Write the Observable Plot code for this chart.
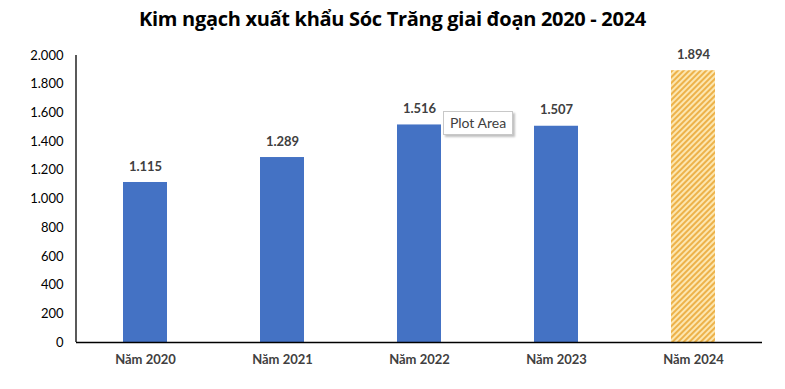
<!DOCTYPE html>
<html><head><meta charset="utf-8">
<script src="https://cdn.jsdelivr.net/npm/d3@7"></script>
<script src="https://cdn.jsdelivr.net/npm/@observablehq/plot@0.6"></script>
<style>
body{margin:0;background:#fff;font-family:Lato,"Open Sans",sans-serif;}
#wrap{position:relative;width:785px;height:389px;}
#title{height:40px;line-height:38px;text-align:center;font-weight:bold;font-size:20px;color:#000;font-family:"Open Sans",Lato,sans-serif;letter-spacing:-0.3px;}
#tip{position:absolute;left:443px;top:111px;width:68px;height:22px;border:1px solid #c8c8c8;background:#fff;box-shadow:2px 2px 2px rgba(0,0,0,0.25);font-size:14px;color:#404040;line-height:22px;text-align:center;font-family:Lato,sans-serif;}
</style></head>
<body>
<div id="wrap">
<div id="title">Kim ngạch xuất khẩu Sóc Trăng giai đoạn 2020 - 2024</div>
<div id="chart"></div>
<div id="tip">Plot Area</div>
</div>
<script>
const years = ["Năm 2020","Năm 2021","Năm 2022","Năm 2023","Năm 2024"];
const values = [1115, 1289, 1516, 1507, 1894];
const yTicks = [0,200,400,600,800,1000,1200,1400,1600,1800,2000];
const estimated = [false,false,false,false,true];

const data = years.map((y,i)=>({year:y, value:values[i], est:estimated[i]}));
const vn = d3.formatLocale({decimal:",", thousands:".", grouping:[3], currency:["",""]});
const fmt = vn.format(",");

const chart = Plot.plot({
  width:785, height:349,
  marginLeft:76, marginRight:23, marginTop:15, marginBottom:47,
  style:{fontFamily:"Lato, 'Open Sans', sans-serif", fontSize:"13px", color:"#000"},
  x:{domain:years, paddingInner:0.68, paddingOuter:0.34, label:null, axis:null},
  y:{domain:[0,2000], ticks:yTicks, tickFormat:fmt, label:null, tickSize:0, tickPadding:13},
  marks:[
    Plot.barY(data, {x:"year", y:"value", fill:d=>d.est ? "url(#hatch)" : "#4472C4"}),
    Plot.text(data, {x:"year", y:"value", text:d=>fmt(d.value), dy:-16, fontWeight:"bold", fontSize:13, fill:"#404040"}),
    Plot.ruleY([0], {stroke:"#000", strokeWidth:1.3}),
    Plot.axisX({tickSize:0, tickPadding:12, fontWeight:"bold", fill:"#404040", fontSize:13, label:null}),
  ]
});
const svg = d3.select(chart);
const defs = svg.insert("defs", ":first-child");
const p = defs.append("pattern").attr("id","hatch").attr("patternUnits","userSpaceOnUse")
  .attr("width",4).attr("height",4).attr("patternTransform","rotate(45)");
p.append("rect").attr("width",4).attr("height",4).attr("fill","#FCE6B0");
p.append("rect").attr("width",2).attr("height",4).attr("fill","#EDB24A");
// y axis line
svg.append("line").attr("x1",76).attr("x2",76).attr("y1",15).attr("y2",302).attr("stroke","#000").attr("stroke-width",1.3);
document.getElementById("chart").appendChild(chart);
</script>
</body></html>
